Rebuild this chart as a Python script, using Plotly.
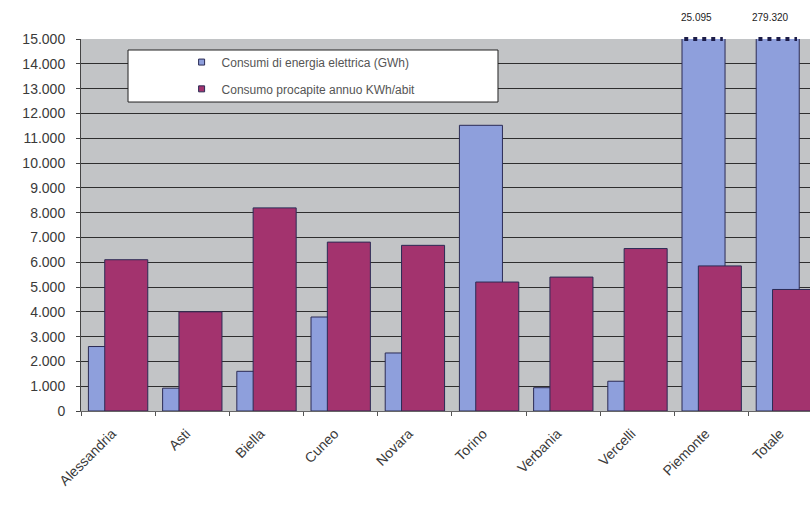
import plotly.graph_objects as go

# Electricity consumption by province (Piedmont)
provinces = ["Alessandria", "Asti", "Biella", "Cuneo", "Novara",
             "Torino", "Verbania", "Vercelli", "Piemonte", "Totale"]
consumi_gwh = [2600, 920, 1600, 3790, 2340, 11520, 940, 1200, 25095, 279320]
procapite_kwh = [6100, 4000, 8190, 6810, 6680, 5200, 5400, 6550, 5850, 4900]

name_consumi = "Consumi di energia elettrica (GWh)"
name_procapite = "Consumo procapite annuo KWh/abit"

Y_MAX = 15000
y_ticks = list(range(0, Y_MAX + 1, 1000))


def it_num(v):
    return f"{v:,}".replace(",", ".")


y_tick_text = [it_num(v) for v in y_ticks]

BLUE = "#8E9FDC"
PURPLE = "#A3336E"
OUTLINE = "#2b2b55"
BAR_W = 0.58
OFF_BLUE = -0.40
OFF_PURPLE = -0.18

fig = go.Figure()
fig.add_bar(x=provinces, y=consumi_gwh, width=BAR_W, offset=OFF_BLUE,
            marker=dict(color=BLUE, line=dict(color=OUTLINE, width=1)),
            opacity=1, showlegend=False, name=name_consumi)
fig.add_bar(x=provinces, y=procapite_kwh, width=BAR_W, offset=OFF_PURPLE,
            marker=dict(color=PURPLE, line=dict(color=OUTLINE, width=1)),
            opacity=1, showlegend=False, name=name_procapite)

# legend entries with small square swatches
fig.add_scatter(x=[None], y=[None], mode="markers", name=name_consumi,
                marker=dict(symbol="square", size=6, color=BLUE,
                            line=dict(color=OUTLINE, width=1)),
                legend="legend")
fig.add_scatter(x=[None], y=[None], mode="markers", name=name_procapite,
                marker=dict(symbol="square", size=6, color=PURPLE,
                            line=dict(color=OUTLINE, width=1)),
                legend="legend2")

shapes = [
    # white legend frame
    dict(type="rect", xref="paper", yref="paper",
         x0=0.0645, x1=0.572, y0=0.8306, y1=0.9704,
         fillcolor="white", line=dict(color="#222", width=1), layer="above"),
]
annotations = []
for i, v in enumerate(consumi_gwh):
    if v > Y_MAX:
        # bars running past the axis: dotted break on top plus the real value
        shapes.append(dict(type="line", xref="x", yref="paper",
                           x0=i + OFF_BLUE + 0.03, x1=i + OFF_BLUE + BAR_W - 0.03,
                           y0=1, y1=1,
                           line=dict(color="#1c1c48", width=4, dash="4px,5px"),
                           layer="above"))
        annotations.append(dict(x=i + OFF_BLUE + BAR_W / 2 - 0.1, xref="x",
                                y=1, yref="paper", yanchor="bottom",
                                yshift=14, showarrow=False, text=it_num(v),
                                font=dict(size=10, color="#222")))

fig.update_layout(
    width=810, height=505,
    margin=dict(l=81, r=0, t=39, b=94),
    paper_bgcolor="white",
    plot_bgcolor="#C2C4C6",
    barmode="overlay",
    font=dict(family="Arial, Liberation Sans, sans-serif", size=14, color="#3a3a3a"),
    shapes=shapes,
    annotations=annotations,
    legend=dict(x=0.138, y=0.938, xanchor="left", yanchor="middle",
                bgcolor="rgba(0,0,0,0)", borderwidth=0,
                font=dict(size=12, color="#555")),
    legend2=dict(x=0.138, y=0.866, xanchor="left", yanchor="middle",
                 bgcolor="rgba(0,0,0,0)", borderwidth=0,
                 font=dict(size=12, color="#555")),
)
fig.update_xaxes(type="category", range=[-0.5, 9.325],
                 tickson="boundaries", ticks="outside", ticklen=4,
                 tickcolor="#555", tickangle=-45,
                 ticklabelstandoff=8, ticklabelshift=-6,
                 showline=True, linecolor="#666", linewidth=1,
                 showgrid=False, zeroline=False,
                 tickfont=dict(size=14, color="#3a3a3a"))
fig.update_yaxes(range=[0, Y_MAX], tickvals=y_ticks, ticktext=y_tick_text,
                 ticks="outside", ticklen=4, tickcolor="#444",
                 ticklabelstandoff=8,
                 showline=True, linecolor="#444", linewidth=1,
                 showgrid=True, gridcolor="#2e2e2e", gridwidth=1,
                 zeroline=False, tickfont=dict(size=14, color="#3a3a3a"))

fig.write_html("out.html")
